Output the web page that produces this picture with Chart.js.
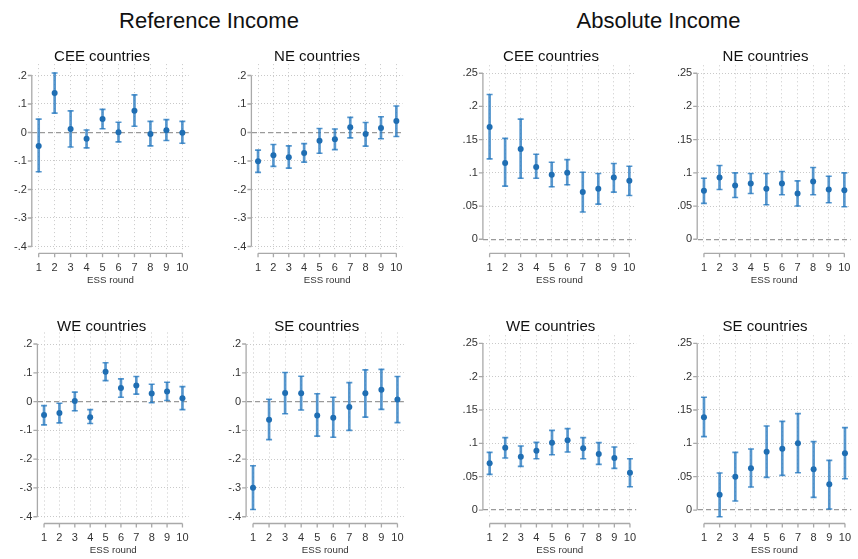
<!DOCTYPE html>
<html>
<head>
<meta charset="utf-8">
<script src="https://cdn.jsdelivr.net/npm/chart.js@4.4.1/dist/chart.umd.min.js"></script>
<style>
  html, body { margin: 0; padding: 0; background: #fff; overflow: hidden; }
  #page { position: relative; width: 858px; height: 559px; overflow: hidden;
          font-family: "Liberation Sans", Arial, Helvetica, sans-serif; }
  .box { position: absolute; }
  .head { position: absolute; white-space: nowrap; text-align: center; color: #111; }
  .group { font-size: 22px; line-height: 22px; width: 300px; }
  .panel { font-size: 15px; line-height: 15px; width: 200px; }
</style>
</head>
<body>
<div id="page"></div>
<script>
// ESS rounds on the x axis
const rounds = [1, 2, 3, 4, 5, 6, 7, 8, 9, 10];

// y-axis ticks and their printed labels
const refTicks = [-0.4, -0.3, -0.2, -0.1, 0, 0.1, 0.2];
const refTickLabels = ['-.4', '-.3', '-.2', '-.1', '0', '.1', '.2'];
const absTicks = [0, 0.05, 0.1, 0.15, 0.2, 0.25];
const absTickLabels = ['0', '.05', '.1', '.15', '.2', '.25'];

// Reference income: point estimates with 95% CI bounds
const refCeeEst  = [-0.047, 0.139, 0.012, -0.022, 0.047, 0.001, 0.076, -0.005, 0.008, -0.001];
const refCeeLow  = [-0.138, 0.068, -0.051, -0.054, 0.013, -0.033, 0.022, -0.047, -0.028, -0.038];
const refCeeHigh = [0.047, 0.209, 0.076, 0.009, 0.081, 0.036, 0.132, 0.039, 0.045, 0.039];

const refNeEst  = [-0.101, -0.080, -0.087, -0.072, -0.029, -0.024, 0.018, -0.005, 0.016, 0.040];
const refNeLow  = [-0.140, -0.119, -0.125, -0.104, -0.073, -0.060, -0.019, -0.048, -0.022, -0.014];
const refNeHigh = [-0.062, -0.042, -0.047, -0.039, 0.014, 0.012, 0.053, 0.035, 0.055, 0.093];

const refWeEst  = [-0.047, -0.040, 0.002, -0.054, 0.104, 0.047, 0.056, 0.028, 0.035, 0.012];
const refWeLow  = [-0.081, -0.074, -0.032, -0.076, 0.073, 0.015, 0.026, -0.004, 0.004, -0.028];
const refWeHigh = [-0.014, -0.006, 0.033, -0.028, 0.135, 0.079, 0.087, 0.060, 0.067, 0.052];

const refSeEst  = [-0.299, -0.063, 0.030, 0.029, -0.048, -0.056, -0.019, 0.029, 0.041, 0.007];
const refSeLow  = [-0.375, -0.132, -0.042, -0.029, -0.120, -0.124, -0.100, -0.054, -0.027, -0.073];
const refSeHigh = [-0.223, 0.008, 0.101, 0.088, 0.027, 0.015, 0.066, 0.110, 0.112, 0.087];

// Absolute income: point estimates with 95% CI bounds
const absCeeEst  = [0.169, 0.115, 0.136, 0.109, 0.097, 0.100, 0.071, 0.076, 0.093, 0.088];
const absCeeLow  = [0.121, 0.080, 0.092, 0.092, 0.079, 0.082, 0.041, 0.053, 0.071, 0.066];
const absCeeHigh = [0.218, 0.152, 0.181, 0.128, 0.116, 0.120, 0.101, 0.099, 0.114, 0.110];

const absNeEst  = [0.073, 0.093, 0.081, 0.084, 0.076, 0.084, 0.069, 0.087, 0.075, 0.074];
const absNeLow  = [0.054, 0.075, 0.063, 0.069, 0.052, 0.067, 0.050, 0.067, 0.055, 0.049];
const absNeHigh = [0.092, 0.111, 0.100, 0.099, 0.099, 0.102, 0.088, 0.108, 0.095, 0.100];

const absWeEst  = [0.070, 0.0935, 0.080, 0.089, 0.101, 0.1045, 0.0925, 0.084, 0.078, 0.056];
const absWeLow  = [0.0535, 0.078, 0.0655, 0.077, 0.083, 0.087, 0.077, 0.0685, 0.0625, 0.035];
const absWeHigh = [0.0865, 0.1085, 0.096, 0.1015, 0.1195, 0.122, 0.1085, 0.101, 0.0945, 0.077];

const absSeEst  = [0.139, 0.023, 0.050, 0.0625, 0.0875, 0.092, 0.100, 0.061, 0.0385, 0.085];
const absSeLow  = [0.110, -0.010, 0.0135, 0.0345, 0.049, 0.052, 0.056, 0.019, 0.0015, 0.047];
const absSeHigh = [0.169, 0.0555, 0.0865, 0.0915, 0.126, 0.133, 0.1445, 0.1025, 0.0745, 0.1235];

// ---- appearance ----
const FONT = '"Liberation Sans", Arial, Helvetica, sans-serif';
const MARK = '#1f6eb3';
const CI = 'rgba(40, 122, 192, 0.78)';
const GRID = '#c9c9c9';
const ZERO = '#9a9a9a';
const AXIS = '#a9a9a9';
const TEXT = '#333333';
const YW = 32;     // width reserved for the y axis
const XH = 40;     // height reserved for the x axis
const PAD = 4;
const PAD_TOP = 16; // room for the top y-tick label so the plot box is not pushed down

// panel layout (plot-region box, x-axis baseline, title centre)
const panels = [
  { title: 'CEE countries', kind: 'ref', est: refCeeEst, low: refCeeLow, high: refCeeHigh,
    plotLeft: 32.3, plotTop: 64.1, plotWidth: 163.3, plotHeight: 185.8, axisY: 253.3, titleX: 102, titleTop: 48 },
  { title: 'NE countries', kind: 'ref', est: refNeEst, low: refNeLow, high: refNeHigh,
    plotLeft: 251.9, plotTop: 64.1, plotWidth: 157.9, plotHeight: 185.8, axisY: 253.3, titleX: 317, titleTop: 48 },
  { title: 'CEE countries', kind: 'abs', est: absCeeEst, low: absCeeLow, high: absCeeHigh,
    plotLeft: 483.4, plotTop: 65.3, plotWidth: 161.5, plotHeight: 182.6, axisY: 253.3, titleX: 551, titleTop: 48 },
  { title: 'NE countries', kind: 'abs', est: absNeEst, low: absNeLow, high: absNeHigh,
    plotLeft: 697.7, plotTop: 65.3, plotWidth: 161.5, plotHeight: 182.6, axisY: 253.3, titleX: 765.5, titleTop: 48 },
  { title: 'WE countries', kind: 'ref', est: refWeEst, low: refWeLow, high: refWeHigh,
    plotLeft: 37.9, plotTop: 332.5, plotWidth: 157.9, plotHeight: 187.7, axisY: 523.5, titleX: 101.7, titleTop: 318 },
  { title: 'SE countries', kind: 'ref', est: refSeEst, low: refSeLow, high: refSeHigh,
    plotLeft: 246.6, plotTop: 332.5, plotWidth: 164.1, plotHeight: 187.7, axisY: 523.5, titleX: 316.7, titleTop: 318 },
  { title: 'WE countries', kind: 'abs', est: absWeEst, low: absWeLow, high: absWeHigh,
    plotLeft: 483.4, plotTop: 335.3, plotWidth: 161.5, plotHeight: 183.4, axisY: 523.5, titleX: 550.7, titleTop: 318 },
  { title: 'SE countries', kind: 'abs', est: absSeEst, low: absSeLow, high: absSeHigh,
    plotLeft: 697.7, plotTop: 335.3, plotWidth: 161.5, plotHeight: 183.4, axisY: 523.5, titleX: 765, titleTop: 318 }
];

const groupTitles = [
  { text: 'Reference Income', x: 209, top: 10 },
  { text: 'Absolute Income', x: 658.5, top: 10 }
];

const page = document.getElementById('page');

groupTitles.forEach(g => {
  const d = document.createElement('div');
  d.className = 'head group';
  d.textContent = g.text;
  d.style.left = (g.x - 150) + 'px';
  d.style.top = g.top + 'px';
  page.appendChild(d);
});

// Stata-style axis lines: y axis spans first..last tick, x axis sits just below the plot region
const axisLines = {
  id: 'axisLines',
  afterDraw(chart, args, opts) {
    const { ctx, chartArea, scales: { x, y } } = chart;
    ctx.save();
    ctx.strokeStyle = AXIS;
    ctx.lineWidth = 1.3;
    ctx.beginPath();
    const yt = y.ticks;
    const ax = chartArea.left - 0.5;
    ctx.moveTo(ax, y.getPixelForValue(yt[yt.length - 1].value));
    ctx.lineTo(ax, y.getPixelForValue(yt[0].value));
    yt.forEach(t => {
      const py = y.getPixelForValue(t.value);
      ctx.moveTo(ax - 4, py);
      ctx.lineTo(ax, py);
    });
    const xt = x.ticks;
    const ay = opts.axisY;
    ctx.moveTo(x.getPixelForValue(xt[0].value), ay);
    ctx.lineTo(x.getPixelForValue(xt[xt.length - 1].value), ay);
    xt.forEach(t => {
      const px = x.getPixelForValue(t.value);
      ctx.moveTo(px, ay);
      ctx.lineTo(px, ay + 4);
    });
    ctx.stroke();
    ctx.restore();
  }
};

panels.forEach(p => {
  const isRef = p.kind === 'ref';
  const yTicks = isRef ? refTicks : absTicks;
  const yLabels = isRef ? refTickLabels : absTickLabels;
  const yMin = isRef ? -0.412 : -0.013;
  const yMax = isRef ? 0.24 : 0.262;

  const plotRight = p.plotLeft + p.plotWidth;
  const plotBottom = p.plotTop + p.plotHeight;
  const left = Math.floor(p.plotLeft - YW - PAD);
  const top = Math.floor(p.plotTop - PAD_TOP);
  const right = Math.ceil(plotRight + PAD);
  const bottom = Math.ceil(plotBottom + XH + PAD);
  const padding = {
    left: p.plotLeft - YW - left,
    top: p.plotTop - top,
    right: right - plotRight,
    bottom: bottom - (plotBottom + XH)
  };

  const box = document.createElement('div');
  box.className = 'box';
  box.style.left = left + 'px';
  box.style.top = top + 'px';
  box.style.width = (right - left) + 'px';
  box.style.height = (bottom - top) + 'px';
  const canvas = document.createElement('canvas');
  box.appendChild(canvas);
  page.appendChild(box);

  const head = document.createElement('div');
  head.className = 'head panel';
  head.textContent = p.title;
  head.style.left = (p.titleX - 100) + 'px';
  head.style.top = p.titleTop + 'px';
  page.appendChild(head);

  const tickSize = 11, tickLH = tickSize * 1.2;
  const titleSize = 9.7, titleLH = titleSize * 1.2;
  const tickPad = p.axisY + 14.5 - tickLH / 2 - plotBottom;
  const titlePadBottom = plotBottom + XH - titleLH / 2 - (p.axisY + 27.2);

  new Chart(canvas, {
    type: 'scatter',
    data: {
      datasets: [
        {
          type: 'scatter',
          data: rounds.map((r, i) => ({ x: r, y: p.est[i] })),
          pointRadius: 3,
          pointBackgroundColor: MARK,
          pointBorderWidth: 0
        },
        {
          type: 'scatter',
          data: rounds.map((r, i) => ({ x: r, y: p.low[i] }))
                .concat(rounds.map((r, i) => ({ x: r, y: p.high[i] }))),
          pointStyle: 'line',
          pointRadius: 3,
          pointBorderColor: CI,
          pointBorderWidth: 1.6
        },
        {
          type: 'bar',
          data: rounds.map((r, i) => ({ x: r, y: [p.low[i], p.high[i]] })),
          backgroundColor: CI,
          borderWidth: 0,
          barThickness: 2
        }
      ]
    },
    options: {
      responsive: true,
      maintainAspectRatio: false,
      animation: false,
      events: [],
      layout: { padding },
      plugins: {
        legend: { display: false },
        tooltip: { enabled: false },
        title: { display: false },
        axisLines: { axisY: p.axisY - top }
      },
      scales: {
        x: {
          type: 'linear',
          min: 0.6,
          max: 10.4,
          offset: false,
          afterBuildTicks: a => { a.ticks = rounds.map(v => ({ value: v })); },
          afterFit: a => { a.height = XH; },
          grid: { offset: false, color: GRID, lineWidth: 1, drawTicks: false },
          border: { display: false, dash: [1, 3] },
          ticks: {
            padding: tickPad, color: TEXT, autoSkip: false, maxRotation: 0,
            font: { size: tickSize, family: FONT },
            callback: v => String(v)
          },
          title: {
            display: true, text: 'ESS round', color: TEXT,
            font: { size: titleSize, family: FONT },
            padding: { top: 0, bottom: titlePadBottom }
          }
        },
        y: {
          type: 'linear',
          min: yMin,
          max: yMax,
          afterBuildTicks: a => { a.ticks = yTicks.map(v => ({ value: v })); },
          afterFit: a => { a.width = YW; },
          grid: {
            color: c => (c.tick && c.tick.value === 0 ? ZERO : GRID),
            lineWidth: c => (c.tick && c.tick.value === 0 ? 1.3 : 1),
            drawTicks: false
          },
          border: {
            display: false,
            dash: c => (c.tick && c.tick.value === 0 ? [5, 3] : [1, 2])
          },
          ticks: {
            padding: 5.5, color: TEXT, autoSkip: false,
            font: { size: tickSize, family: FONT },
            callback: v => yLabels[yTicks.indexOf(v)]
          }
        }
      }
    },
    plugins: [axisLines]
  });
});
</script>
</body>
</html>
